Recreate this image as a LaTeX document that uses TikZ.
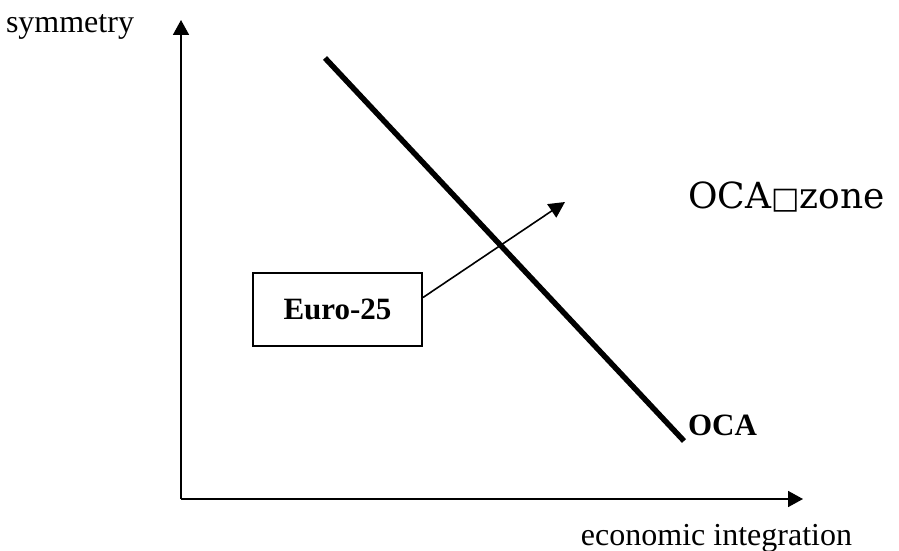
\documentclass[tikz,border=0pt]{standalone}
\usepackage{fontspec}
\setmainfont{Liberation Serif}
\newfontfamily\zonefont{DejaVu Serif}
\newfontfamily\boxfont{DejaVu Sans}
\usetikzlibrary{arrows.meta, positioning}
\tikzset{
  every picture/.style={line width=1pt},
  axis/.style={-{Triangle[length=7.5pt, width=8pt]}, line width=0.9pt},
  pointer/.style={-{Triangle[length=8pt, width=8pt]}, line width=0.8pt},
  label/.style={font=\fontsize{16}{19}\selectfont, inner sep=0pt},
  boldlabel/.style={font=\fontsize{15.5}{18}\selectfont\bfseries, inner sep=0pt},
  zonelabel/.style={font=\zonefont\fontsize{18}{21}\selectfont, inner sep=0pt},
  regionbox/.style={draw, line width=1pt, minimum width=84.5pt, minimum height=36.5pt, font=\fontsize{15.5}{18}\selectfont\bfseries},
}
\begin{document}
\begin{tikzpicture}[x=0.5pt, y=-0.5pt]
  \useasboundingbox (0,0) rectangle (899,551);
  % axes
  \coordinate (origin) at (181,499);
  \coordinate (ytop) at (181,20);
  \coordinate (xend) at (803,499);
  \draw[axis] (origin) -- (ytop);
  \draw[axis] (origin) -- (xend);
  \node[label, anchor=base west] (ylab) at (5,33) {symmetry};
  \node[label, anchor=base east] (xlab) at (853,545) {economic integration};
  % OCA line
  \coordinate (ocatop) at (325,58);
  \coordinate (ocabot) at (684,441);
  \draw[line width=2.75pt] (ocatop) -- (ocabot);
  \node[boldlabel, anchor=base west] (ocalab) at (687,435) {OCA};
  \node[zonelabel, anchor=base west] (zone) at (687,208) {OCA{\boxfont\fontsize{15}{18}\selectfont □}zone};
  % Euro-25
  \node[regionbox] (euro) at (337.5,309.5) {Euro-25};
  \coordinate (target) at (565,202);
  \draw[pointer] ([yshift=6pt]euro.east) -- (target);
\end{tikzpicture}
\end{document}
